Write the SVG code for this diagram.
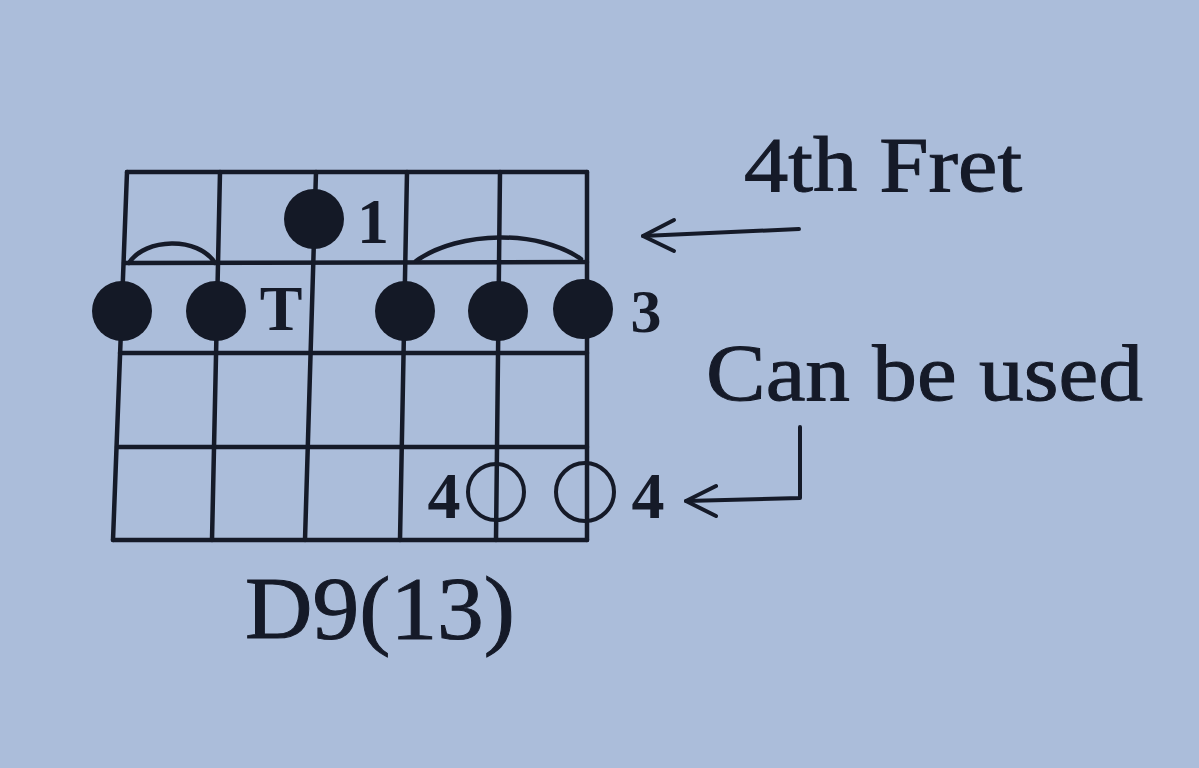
<svg xmlns="http://www.w3.org/2000/svg" width="1199" height="768" viewBox="0 0 1199 768">
  <defs>
    <style>
      .ln { stroke:#151a28; stroke-width:4.5; fill:none; stroke-linecap:round; }
      .dot { fill:#141926; }
      .open { fill:none; stroke:#151a28; stroke-width:4; }
      .txt { font-family:"Liberation Serif","Times New Roman",serif; fill:#151a28; stroke:#151a28; stroke-width:1; }
      .lbl { font-family:"Liberation Serif","Times New Roman",serif; fill:#151a28; font-weight:bold; }
      .arr { stroke:#151a28; stroke-width:4; fill:none; stroke-linecap:round; stroke-linejoin:round; }
    </style>
  </defs>
  <rect x="0" y="0" width="1199" height="768" fill="#abbdda"/>

  <g id="grid">
    <line class="ln" x1="127" y1="172" x2="587" y2="172"/>
    <line class="ln" x1="124" y1="263" x2="587" y2="262"/>
    <line class="ln" x1="120" y1="353" x2="587" y2="353"/>
    <line class="ln" x1="117" y1="447" x2="587" y2="447"/>
    <line class="ln" x1="113" y1="540" x2="587" y2="540"/>
    <line class="ln" x1="127" y1="172" x2="113" y2="540"/>
    <line class="ln" x1="220" y1="172" x2="212" y2="540"/>
    <line class="ln" x1="316" y1="172" x2="305" y2="540"/>
    <line class="ln" x1="407" y1="172" x2="400" y2="540"/>
    <line class="ln" x1="500" y1="172" x2="496" y2="540"/>
    <line class="ln" x1="587" y1="172" x2="587" y2="540"/>
  </g>

  <g id="ties">
    <path class="ln" d="M129,263 C145,238 198,236 215,263" stroke-width="3.5"/>
    <path class="ln" d="M416,261 C460,230 540,230 581,259" stroke-width="3.5"/>
  </g>

  <g id="finger-1">
    <circle class="dot" cx="314" cy="219" r="30"/>
    <text class="lbl" x="373" y="243" font-size="64" text-anchor="middle">1</text>
  </g>

  <g id="barre-3">
    <circle class="dot" cx="122" cy="311" r="30"/>
    <circle class="dot" cx="216" cy="311" r="30"/>
    <text class="lbl" x="281" y="330" font-size="64" text-anchor="middle">T</text>
    <circle class="dot" cx="405" cy="311" r="30"/>
    <circle class="dot" cx="498" cy="311" r="30"/>
    <circle class="dot" cx="583" cy="309" r="30"/>
    <text class="lbl" x="646" y="332" font-size="62" text-anchor="middle">3</text>
  </g>

  <g id="optional-4">
    <text class="lbl" x="444" y="518" font-size="66" text-anchor="middle">4</text>
    <circle class="open" cx="496" cy="492" r="28"/>
    <circle class="open" cx="585" cy="492" r="29"/>
    <text class="lbl" x="648" y="518" font-size="66" text-anchor="middle">4</text>
  </g>

  <g id="connectors">
    <line class="arr" x1="799" y1="229" x2="643" y2="236"/>
    <polyline class="arr" points="674,220 643,236 674,251"/>
    <polyline class="arr" points="800,427 800,498 686,501"/>
    <polyline class="arr" points="716,486 686,501 716,516"/>
  </g>

  <g id="labels">
    <text class="txt" x="744" y="191" font-size="78" textLength="278" lengthAdjust="spacingAndGlyphs">4th Fret</text>
    <text class="txt" x="706" y="400" font-size="80" textLength="437" lengthAdjust="spacingAndGlyphs">Can be used</text>
    <text class="txt" x="245" y="638" font-size="88" textLength="270" lengthAdjust="spacingAndGlyphs">D9(13)</text>
  </g>
</svg>
